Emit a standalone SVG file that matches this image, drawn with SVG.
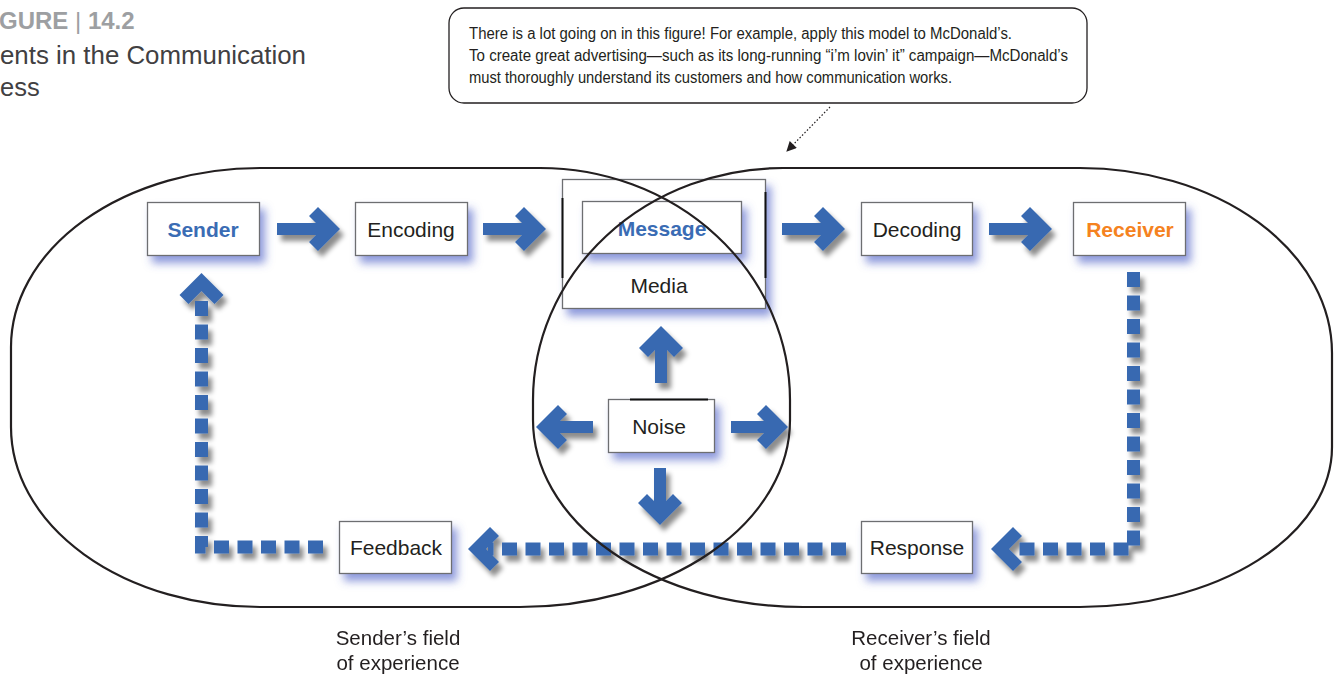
<svg xmlns="http://www.w3.org/2000/svg" width="1336" height="674" viewBox="0 0 1336 674">
<style>
.box{fill:#fff;stroke:#6d6e71;stroke-width:1.3}
.lbl{font-family:"Liberation Sans",Arial,sans-serif;font-size:21px;fill:#231f20;text-anchor:middle}
.blue{fill:#3a6cb4;font-weight:bold}
.orange{fill:#f58220;font-weight:bold}
.arr{fill:#3869b1}
.dash{fill:none;stroke:#3869b1;stroke-width:13;stroke-dasharray:15 8.5}
.field{fill:none;stroke:#231f20;stroke-width:2.2}
.cap{font-family:"Liberation Sans",Arial,sans-serif;font-size:16px;fill:#231f20}
.foot{font-family:"Liberation Sans",Arial,sans-serif;font-size:20.5px;fill:#231f20;text-anchor:middle}
</style>
<defs>
<filter id="glow" x="-20%" y="-30%" width="150%" height="180%">
<feGaussianBlur in="SourceAlpha" stdDeviation="4"/>
<feOffset dx="5" dy="7" result="b"/>
<feFlood flood-color="#4357c4" flood-opacity="0.6"/>
<feComposite in2="b" operator="in"/>
<feMerge><feMergeNode/><feMergeNode in="SourceGraphic"/></feMerge>
</filter>
<filter id="sh" x="-30%" y="-30%" width="170%" height="170%">
<feGaussianBlur in="SourceAlpha" stdDeviation="2.5"/>
<feOffset dx="4" dy="6" result="b"/>
<feFlood flood-color="#000" flood-opacity="0.45"/>
<feComposite in2="b" operator="in"/>
<feMerge><feMergeNode/><feMergeNode in="SourceGraphic"/></feMerge>
</filter>
<path id="arrL" d="M0,0 L-22,-22 L-31,-13 L-24,-6 L-63,-6 L-63,6 L-24,6 L-31,13 L-22,22 Z"/>
<path id="arrS" d="M0,0 L-22,-22 L-31,-13 L-24,-6 L-57,-6 L-57,6 L-24,6 L-31,13 L-22,22 Z"/>
<path id="chev" d="M0,0 L-22,-22 L-31,-13 L-18,0 L-31,13 L-22,22 Z"/>
<marker id="tri" viewBox="0 0 10 10" refX="9" refY="5" markerWidth="12" markerHeight="10" markerUnits="userSpaceOnUse" orient="auto">
<path d="M0,0 L10,5 L0,10 Z" fill="#231f20"/>
</marker>
</defs>
<rect width="1336" height="674" fill="#fff"/>

<g id="title">
<text x="-1" y="29" font-family="Liberation Sans,Arial,sans-serif" font-size="24" fill="#9d9fa2"><tspan font-weight="bold">GURE</tspan> | <tspan font-weight="bold">14.2</tspan></text>
<text x="0" y="64" font-family="Liberation Sans,Arial,sans-serif" font-size="25.5" fill="#414042" textLength="306" lengthAdjust="spacingAndGlyphs">ents in the Communication</text>
<text x="0" y="96" font-family="Liberation Sans,Arial,sans-serif" font-size="25.5" fill="#414042">ess</text>
</g>

<g id="callout">
<rect x="449" y="8" width="638" height="95" rx="15" ry="15" fill="#fff" stroke="#231f20" stroke-width="1.3"/>
<text class="cap" x="469" y="39" textLength="543" lengthAdjust="spacingAndGlyphs">There is a lot going on in this figure!  For example, apply this model to McDonald’s.</text>
<text class="cap" x="469" y="61" textLength="599" lengthAdjust="spacingAndGlyphs">To create great advertising—such as its long-running “i’m lovin’ it” campaign—McDonald’s</text>
<text class="cap" x="469" y="83" textLength="483" lengthAdjust="spacingAndGlyphs">must thoroughly understand its customers and how communication works.</text>
<line x1="830" y1="107" x2="787" y2="151" stroke="#231f20" stroke-width="1.2" stroke-dasharray="1.5 2" marker-end="url(#tri)"/>
</g>

<g id="sender" filter="url(#glow)">
<rect class="box" x="147.5" y="202.5" width="112" height="53"/>
</g>
<text class="lbl blue" x="203" y="237">Sender</text>

<g id="encoding" filter="url(#glow)">
<rect class="box" x="355.5" y="202.5" width="112" height="53"/>
</g>
<text class="lbl" x="411" y="237">Encoding</text>

<g id="media">
<rect class="box" x="562.5" y="179.5" width="203" height="129" filter="url(#glow)"/>
<line x1="562.5" y1="198" x2="562.5" y2="278" stroke="#111" stroke-width="2"/>
<line x1="765.5" y1="192" x2="765.5" y2="278" stroke="#111" stroke-width="2"/>
<text class="lbl" x="659" y="293">Media</text>
</g>

<g id="message">
<rect class="box" x="582.5" y="201.5" width="159" height="52" filter="url(#glow)"/>
<text class="lbl blue" x="662" y="236">Message</text>
</g>

<g id="decoding" filter="url(#glow)">
<rect class="box" x="861.5" y="202.5" width="111" height="53"/>
</g>
<text class="lbl" x="917" y="237">Decoding</text>

<g id="receiver" filter="url(#glow)">
<rect class="box" x="1073.5" y="202.5" width="112" height="53"/>
</g>
<text class="lbl orange" x="1130" y="237">Receiver</text>

<g id="noise">
<rect class="box" x="608.5" y="399.5" width="106" height="53" filter="url(#glow)"/>
<line x1="630" y1="399.5" x2="708" y2="399.5" stroke="#111" stroke-width="1.8"/>
<text class="lbl" x="659" y="434">Noise</text>
</g>

<g id="feedback">
<rect class="box" x="339.5" y="521.5" width="112" height="52" filter="url(#glow)"/>
<text class="lbl" x="396" y="555">Feedback</text>
</g>

<g id="response">
<rect class="box" x="861.5" y="521.5" width="111" height="52" filter="url(#glow)"/>
<text class="lbl" x="917" y="555">Response</text>
</g>

<g id="connectors">
<g filter="url(#sh)" class="arr">
<use href="#arrL" transform="translate(340,229)"/>
<use href="#arrL" transform="translate(546,229)"/>
<use href="#arrL" transform="translate(845,229)"/>
<use href="#arrL" transform="translate(1052,229)"/>
<use href="#arrS" transform="translate(661,326) rotate(-90)"/>
<use href="#arrS" transform="translate(536,427) rotate(180)"/>
<use href="#arrS" transform="translate(788,427)"/>
<use href="#arrS" transform="translate(660,525) rotate(90)"/>
</g>
<g filter="url(#sh)">
<path class="dash" d="M1133.5,272 V549 H1013"/>
<use class="arr" href="#chev" transform="translate(991,549) rotate(180)"/>
<path class="dash" d="M846,549 H488"/>
<use class="arr" href="#chev" transform="translate(468,549) rotate(180)"/>
<path class="dash" d="M323,547 H201.5 V297"/>
<use class="arr" href="#chev" transform="translate(201.5,273) rotate(-90)"/>
</g>
</g>

<g id="fields">
<path id="senderField" class="field" d="M260,168 L540,168 A250,232 0 0 1 790,400 L790,420 A270,187 0 0 1 520,607 L260,607 A249,180 0 0 1 11,427 L11,347 A249,179 0 0 1 260,168 Z"/>
<path id="receiverField" class="field" d="M1080,168 A252,185 0 0 1 1332,353 L1332,447 A252,160 0 0 1 1080,607 L803,607 A270,187 0 0 1 533,420 L533,400 A250,232 0 0 1 783,168 Z"/>
</g>

<g id="labels">
<text class="foot" x="398" y="645">Sender’s field</text>
<text class="foot" x="398" y="670">of experience</text>
<text class="foot" x="921" y="645">Receiver’s field</text>
<text class="foot" x="921" y="670">of experience</text>
</g>
</svg>
